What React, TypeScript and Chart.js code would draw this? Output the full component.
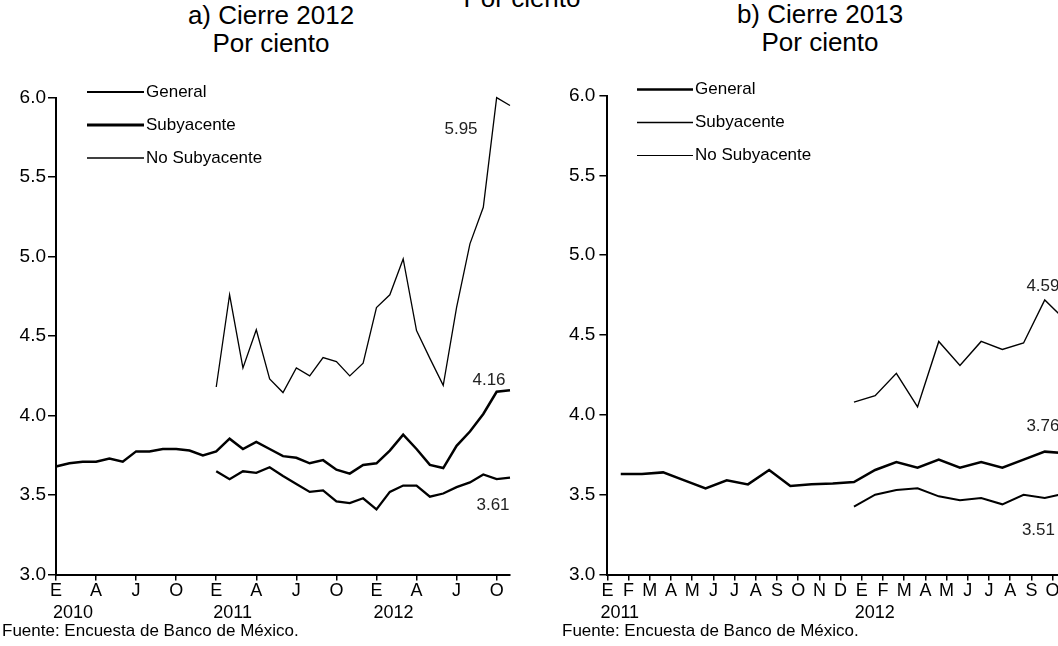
import React, { useEffect, useRef } from 'react';
import { Chart, registerables } from 'chart.js';

Chart.register(...registerables);

const FONT = '"Liberation Sans", Arial, Helvetica, sans-serif';

// ---------- shared ----------
const monthLetters = ['E', 'F', 'M', 'A', 'M', 'J', 'J', 'A', 'S', 'O', 'N', 'D'];
const yTickValues = [3.0, 3.5, 4.0, 4.5, 5.0, 5.5, 6.0];
const seriesNames = ['General', 'Subyacente', 'No Subyacente'];

// ---------- panel a) Cierre 2012 (month index 0 = Jan 2010) ----------
const aYears = ['2010', '2011', '2012'];
const aGeneralStart = 0;
const aGeneral = [
  3.68, 3.70, 3.71, 3.71, 3.73, 3.71, 3.775, 3.775, 3.79, 3.79, 3.78, 3.75,
  3.775, 3.855, 3.79, 3.835, 3.79, 3.745, 3.735, 3.70, 3.72, 3.66, 3.635, 3.69,
  3.70, 3.78, 3.88, 3.79, 3.69, 3.67, 3.81, 3.90, 4.01, 4.15, 4.16,
];
const aCoreStart = 12;
const aSubyacente = [
  3.65, 3.60, 3.65, 3.64, 3.675, 3.62, 3.57, 3.52, 3.53, 3.46, 3.45, 3.48,
  3.41, 3.52, 3.56, 3.56, 3.49, 3.51, 3.55, 3.58, 3.63, 3.60, 3.61,
];
const aNoSubyacente = [
  4.18, 4.76, 4.30, 4.54, 4.23, 4.145, 4.30, 4.25, 4.365, 4.34, 4.25, 4.33,
  4.68, 4.76, 4.985, 4.535, 4.36, 4.19, 4.68, 5.08, 5.31, 6.00, 5.95,
];

// ---------- panel b) Cierre 2013 (month index 0 = Jan 2011) ----------
const bYears = ['2011', '2012'];
const bGeneralStart = 0;
const bGeneral = [
  3.63, 3.63, 3.64, 3.59, 3.54, 3.59, 3.565, 3.655, 3.555, 3.565, 3.57, 3.58,
  3.655, 3.705, 3.67, 3.72, 3.67, 3.705, 3.67, 3.72, 3.77, 3.76,
];
const bCoreStart = 11;
const bSubyacente = [3.425, 3.50, 3.53, 3.54, 3.49, 3.465, 3.48, 3.44, 3.50, 3.48, 3.51];
const bNoSubyacente = [4.08, 4.12, 4.26, 4.05, 4.46, 4.31, 4.46, 4.41, 4.45, 4.72, 4.59];

// fraction of the month at which each survey point sits
const aSurveyOffset = 0;
const bSurveyOffset = 0.63;

function toPoints(values: number[], start: number, offset: number) {
  return values.map((v, i) => ({ x: start + i + offset, y: v }));
}

const decorPlugin = {
  id: 'decor',
  afterDraw(chart: any, _args: any, opts: any) {
    const ctx = chart.ctx as CanvasRenderingContext2D;
    const xs = chart.scales.x;
    ctx.save();
    ctx.fillStyle = '#000';
    ctx.textBaseline = 'middle';
    // year labels under the January ticks
    ctx.font = `${opts.tickSize}px ${FONT}`;
    ctx.textAlign = 'left';
    opts.years.forEach((yr: string, k: number) => {
      const px = xs.getPixelForValue(k * 12);
      ctx.fillText(yr, px + opts.yearDx, opts.yearY);
    });
    // legend
    const lg = opts.legend;
    ctx.font = `${lg.size}px ${FONT}`;
    chart.data.datasets.forEach((ds: any, i: number) => {
      const y = lg.y + i * lg.dy;
      ctx.beginPath();
      ctx.strokeStyle = ds.borderColor;
      ctx.lineWidth = ds.legendWidth ?? ds.borderWidth;
      ctx.moveTo(lg.x, y);
      ctx.lineTo(lg.x + lg.len, y);
      ctx.stroke();
      ctx.textAlign = 'left';
      ctx.fillText(ds.label, lg.x + lg.len + lg.gap, y);
    });
    // end-value labels
    ctx.font = `${opts.labelSize}px ${FONT}`;
    ctx.fillStyle = '#222';
    chart.data.datasets.forEach((ds: any, i: number) => {
      const meta = chart.getDatasetMeta(i);
      const el = meta.data[meta.data.length - 1];
      const lab = ds.endLabel;
      if (!el || !lab) return;
      const val = ds.data[ds.data.length - 1].y;
      ctx.textAlign = 'center';
      ctx.fillText(val.toFixed(2), el.x + lab.dx, el.y + lab.dy);
    });
    ctx.restore();
  },
};

function makeConfig(p: any) {
  const tickFont = { family: FONT, size: 18 };
  return {
    type: 'line',
    data: {
      datasets: [
        {
          label: seriesNames[0],
          data: toPoints(p.general, p.generalStart, p.offset),
          borderColor: '#000',
          borderWidth: p.widths[0],
          legendWidth: p.legendWidths[0],
          endLabel: p.labels[0],
        },
        {
          label: seriesNames[1],
          data: toPoints(p.sub, p.coreStart, p.offset),
          borderColor: '#000',
          borderWidth: p.widths[1],
          legendWidth: p.legendWidths[1],
          endLabel: p.labels[1],
        },
        {
          label: seriesNames[2],
          data: toPoints(p.nosub, p.coreStart, p.offset),
          borderColor: '#000',
          borderWidth: p.widths[2],
          legendWidth: p.legendWidths[2],
          endLabel: p.labels[2],
        },
      ].map((d) => ({ ...d, pointRadius: 0, tension: 0, clip: false, fill: false })),
    },
    options: {
      animation: false,
      responsive: false,
      devicePixelRatio: 1,
      layout: { padding: { top: p.top, right: p.right, left: 0, bottom: 0 } },
      plugins: {
        legend: { display: false },
        tooltip: { enabled: false },
        decor: {
          years: p.years,
          yearDx: p.yearDx,
          yearY: 613,
          tickSize: 18,
          labelSize: 17,
          legend: p.legend,
        },
      },
      scales: {
        x: {
          type: 'linear',
          min: 0,
          max: p.xMax,
          afterFit: (s: any) => {
            s.height = p.xAxisH;
          },
          ticks: {
            stepSize: p.step,
            autoSkip: false,
            maxRotation: 0,
            includeBounds: false,
            padding: 0,
            color: '#000',
            font: tickFont,
            callback: (v: any) => monthLetters[((Math.round(Number(v)) % 12) + 12) % 12],
          },
          grid: { drawOnChartArea: false, drawTicks: true, tickLength: 6, color: '#000', lineWidth: 1.5 },
          border: { display: true, color: '#000', width: 2 },
        },
        y: {
          type: 'linear',
          min: 3,
          max: 6,
          afterFit: (s: any) => {
            s.width = p.yAxisW;
          },
          afterBuildTicks: (s: any) => {
            s.ticks = yTickValues.map((v) => ({ value: v }));
          },
          ticks: {
            padding: p.yPad,
            color: '#000',
            font: { family: FONT, size: 19 },
            callback: (v: any) => Number(v).toFixed(1),
          },
          grid: { drawOnChartArea: false, drawTicks: true, tickLength: 8, color: '#000', lineWidth: 1.5 },
          border: { display: true, color: '#000', width: 2 },
        },
      },
    },
    plugins: [decorPlugin],
  };
}

function Panel({ left, width, cfg }: { left: number; width: number; cfg: any }) {
  const ref = useRef<HTMLCanvasElement | null>(null);
  useEffect(() => {
    if (!ref.current) return;
    const chart = new Chart(ref.current, makeConfig(cfg) as any);
    return () => chart.destroy();
  }, []);
  return (
    <canvas
      ref={ref}
      width={width}
      height={646}
      style={{ position: 'absolute', left, top: 0, width, height: 646 }}
    />
  );
}

const panelA = {
  general: aGeneral,
  generalStart: aGeneralStart,
  sub: aSubyacente,
  nosub: aNoSubyacente,
  coreStart: aCoreStart,
  offset: aSurveyOffset,
  years: aYears,
  yearDx: -3,
  xMax: 34,
  step: 3,
  top: 97.6,
  right: 30,
  yAxisW: 56,
  yPad: 2,
  xAxisH: 71.4,
  widths: [2.5, 2.3, 1.3],
  legendWidths: [2, 2.8, 1.4],
  labels: [
    { dx: -21, dy: -9.5 },
    { dx: -17, dy: 28 },
    { dx: -49, dy: 23.5 },
  ],
  legend: { x: 87, y: 92, dy: 33, len: 57, gap: 2, size: 17 },
};

const panelB = {
  general: bGeneral,
  generalStart: bGeneralStart,
  sub: bSubyacente,
  nosub: bNoSubyacente,
  coreStart: bCoreStart,
  offset: bSurveyOffset,
  years: bYears,
  yearDx: -7,
  xMax: 23,
  step: 1,
  top: 95.5,
  right: 65,
  yAxisW: 67.4,
  yPad: 4,
  xAxisH: 71.4,
  widths: [2.5, 2.0, 1.4],
  legendWidths: [2.4, 1.4, 1.2],
  labels: [
    { dx: -23, dy: -26.5 },
    { dx: -27.5, dy: 37 },
    { dx: -23, dy: -34.5 },
  ],
  legend: { x: 97, y: 89.5, dy: 33, len: 56, gap: 2, size: 17 },
};

const titleStyle: React.CSSProperties = {
  position: 'absolute',
  fontSize: 26,
  lineHeight: '28px',
  textAlign: 'center',
  color: '#000',
  whiteSpace: 'nowrap',
  width: 300,
};

const footStyle: React.CSSProperties = {
  position: 'absolute',
  fontSize: 17,
  lineHeight: '20px',
  color: '#000',
  whiteSpace: 'nowrap',
  top: 621,
};

export default function App() {
  return (
    <div
      style={{
        position: 'fixed',
        left: 0,
        top: 0,
        width: 1058,
        height: 646,
        overflow: 'hidden',
        background: '#fff',
        fontFamily: FONT,
      }}
    >
      <div style={{ ...titleStyle, left: 522 - 150, top: -16 }}>Por ciento</div>
      <div style={{ ...titleStyle, left: 271 - 150, top: 1 }}>
        a) Cierre 2012
        <br />
        Por ciento
      </div>
      <div style={{ ...titleStyle, left: 820 - 150, top: 0 }}>
        b) Cierre 2013
        <br />
        Por ciento
      </div>
      <Panel left={0} width={540} cfg={panelA} />
      <Panel left={540} width={620} cfg={panelB} />
      <div style={{ ...footStyle, left: 2 }}>Fuente: Encuesta de Banco de México.</div>
      <div style={{ ...footStyle, left: 562 }}>Fuente: Encuesta de Banco de México.</div>
    </div>
  );
}
